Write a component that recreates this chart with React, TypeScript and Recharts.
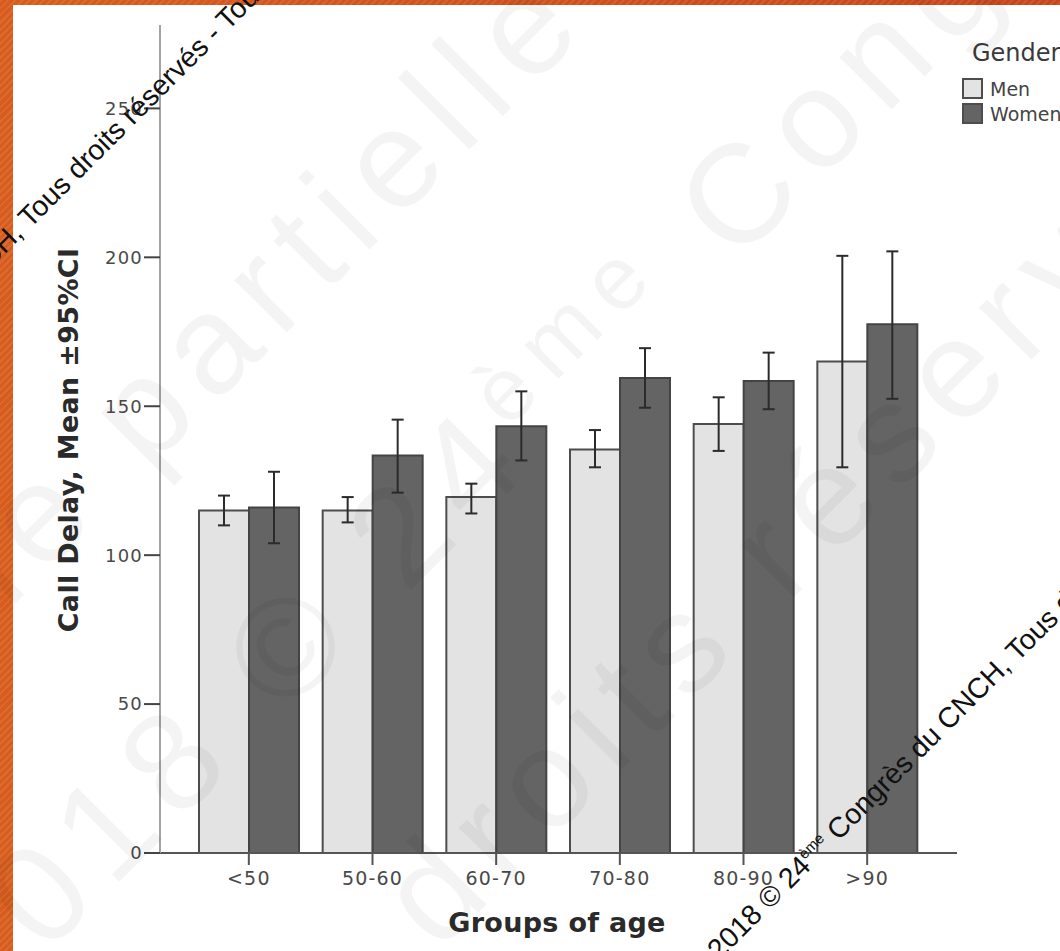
import React from "react";
import { BarChart, Bar, XAxis, YAxis, ErrorBar } from "recharts";

// values (mean call delay and 95% CI per age group)
const AGE_GROUPS = ["<50", "50-60", "60-70", "70-80", "80-90", ">90"];
const MEN_MEAN = [115, 115, 119.5, 135.5, 144, 165];
const MEN_LOW = [110, 111, 114, 129.5, 135, 129.5];
const MEN_HIGH = [120, 119.5, 124, 142, 153, 200.5];
const WOMEN_MEAN = [116, 133.5, 143.3, 159.5, 158.5, 177.5];
const WOMEN_LOW = [104, 121, 131.8, 149.5, 149, 152.5];
const WOMEN_HIGH = [128, 145.5, 155, 169.5, 168, 202];
const Y_TICKS = [0, 50, 100, 150, 200, 250];
const SERIES = ["Men", "Women"];
const SERIES_FILL = ["#e3e3e3", "#646464"];

const data = AGE_GROUPS.map((group, i) => ({
  group,
  men: MEN_MEAN[i],
  menErr: [MEN_MEAN[i] - MEN_LOW[i], MEN_HIGH[i] - MEN_MEAN[i]],
  women: WOMEN_MEAN[i],
  womenErr: [WOMEN_MEAN[i] - WOMEN_LOW[i], WOMEN_HIGH[i] - WOMEN_MEAN[i]],
}));

const tickFont = { fill: "#4a4a4a", fontSize: 18, fontFamily: "'DejaVu Sans', sans-serif" };

const Overlay = () => (
  <svg
    width={1060}
    height={951}
    style={{ position: "absolute", left: 0, top: 0, pointerEvents: "none" }}
  >
    {/* faint big watermark */}
    <g
      fill="#000"
      fillOpacity={0.045}
      fontFamily="'Liberation Sans', Arial, sans-serif"
      fontSize={140}
      letterSpacing={16}
    >
      <text x={-212} y={831} transform="rotate(-45 -212 831)">même partielle</text>
      <text x={-21} y={1022} transform="rotate(-45 -21 1022)">
        2018 © 24
        <tspan fontSize={90} dy={-45}>ème</tspan>
        <tspan dy={45}> Congrès du CNCH</tspan>
      </text>
      <text x={438} y={953} transform="rotate(-45 438 953)">droits réservés</text>
    </g>

    {/* axis titles */}
    <text
      x={78}
      y={440}
      transform="rotate(-90 78 440)"
      textAnchor="middle"
      fontFamily="'DejaVu Sans', sans-serif"
      fontWeight="bold"
      fontSize={27}
      letterSpacing={0.3}
      fill="#2a2a2a"
    >
      Call Delay, Mean ±95%CI
    </text>
    <text
      x={557}
      y={932}
      textAnchor="middle"
      fontFamily="'DejaVu Sans', sans-serif"
      fontWeight="bold"
      fontSize={27}
      letterSpacing={0.3}
      fill="#2a2a2a"
    >
      Groups of age
    </text>

    {/* copyright lines */}
    <g fill="#111" fontFamily="'Liberation Sans', Arial, sans-serif" fontSize={28.5}>
      <text x={24.4} y={234.6} textAnchor="end" transform="rotate(-45 24.4 234.6)">
        Congrès du CNCH,
      </text>
      <text x={30} y={229} transform="rotate(-45 30 229)">
        Tous droits réservés - Toute reproduction
      </text>
      <text x={719} y={961} transform="rotate(-45 719 961)">
        2018 © 24
        <tspan fontSize={15} dy={-11}>ème</tspan>
        <tspan dy={11}> Congrès du CNCH, Tous droits réservés</tspan>
      </text>
    </g>
  </svg>
);

const GenderLegend = () => (
  <div
    style={{
      position: "absolute",
      left: 962,
      top: 38,
      fontFamily: "'DejaVu Sans', sans-serif",
      color: "#444",
      whiteSpace: "nowrap",
    }}
  >
    <div style={{ fontSize: 24, color: "#3a3a3a", marginLeft: 10, lineHeight: "30px" }}>Gender</div>
    {SERIES.map((name, i) => (
      <div key={name} style={{ display: "flex", alignItems: "center", height: 21, marginTop: i === 0 ? 10 : 4 }}>
        <div
          style={{
            width: 17,
            height: 17,
            background: SERIES_FILL[i],
            border: "2px solid #4d4d4d",
            marginRight: 7,
          }}
        />
        <span style={{ fontSize: 19 }}>{name}</span>
      </div>
    ))}
  </div>
);

export default function App() {
  return (
    <div
      style={{
        position: "fixed",
        left: 0,
        top: 0,
        width: 1060,
        height: 951,
        overflow: "hidden",
        background:
          "repeating-linear-gradient(135deg, rgba(255,255,255,0.09) 0 2px, rgba(0,0,0,0) 2px 5px), linear-gradient(to right, #d85c1d, #c9441a)",
      }}
    >
      <div style={{ position: "absolute", left: 13, top: 5, right: 0, bottom: 0, background: "#fff" }} />
      <div style={{ position: "absolute", left: 0, top: 0 }}>
        <BarChart
          width={1060}
          height={951}
          data={data}
          barGap={0}
          barSize={50}
          margin={{ top: 25, right: 103, bottom: 0, left: 0 }}
        >
          <XAxis
            dataKey="group"
            height={98}
            padding={{ left: 27, right: 28 }}
            interval={0}
            tickSize={12}
            tickMargin={7}
            axisLine={{ stroke: "#555", strokeWidth: 2 }}
            tickLine={{ stroke: "#555", strokeWidth: 2 }}
            tick={{ ...tickFont, fontSize: 19, letterSpacing: 1.2 }}
          />
          <YAxis
            width={160}
            domain={[0, 278]}
            ticks={Y_TICKS}
            interval={0}
            allowDataOverflow
            tickSize={16}
            tickMargin={1}
            axisLine={{ stroke: "#a3a3a3", strokeWidth: 2 }}
            tickLine={{ stroke: "#444", strokeWidth: 2 }}
            tick={{ ...tickFont, letterSpacing: 1.2 }}
          />
          <Bar dataKey="men" name="Men" fill={SERIES_FILL[0]} stroke="#4d4d4d" strokeWidth={2} isAnimationActive={false}>
            <ErrorBar dataKey="menErr" direction="y" width={6} stroke="#2b2b2b" strokeWidth={2} />
          </Bar>
          <Bar dataKey="women" name="Women" fill={SERIES_FILL[1]} stroke="#444" strokeWidth={2} isAnimationActive={false}>
            <ErrorBar dataKey="womenErr" direction="y" width={6} stroke="#2b2b2b" strokeWidth={2} />
          </Bar>
        </BarChart>
      </div>
      <GenderLegend />
      <Overlay />
    </div>
  );
}
